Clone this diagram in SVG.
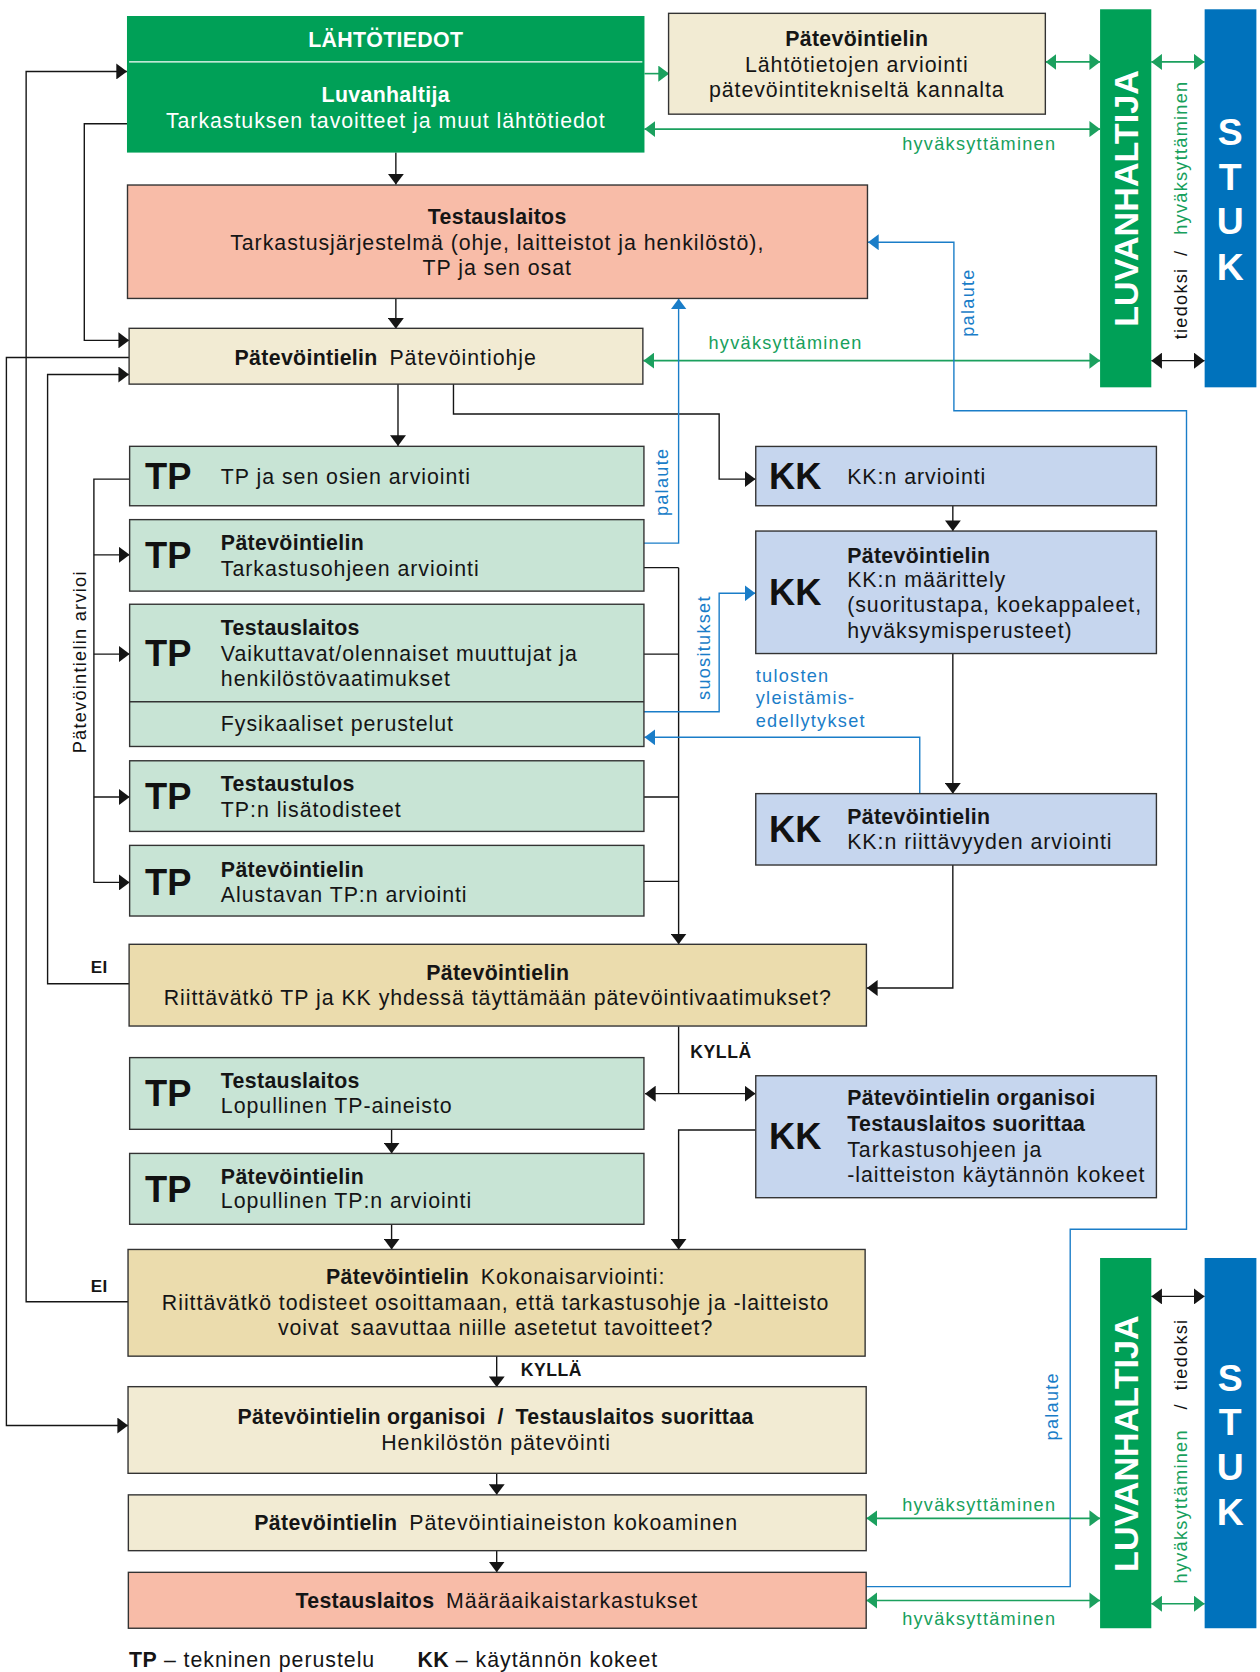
<svg xmlns="http://www.w3.org/2000/svg" width="1260" height="1672" viewBox="0 0 1260 1672">
<style>
.t{font-family:"Liberation Sans",Arial,sans-serif;font-size:20px;letter-spacing:0.9px;fill:#151515}
.b{font-weight:bold;letter-spacing:0.3px}
.w{fill:#fff}
.big{font-family:"Liberation Sans",Arial,sans-serif;font-size:34px;font-weight:bold;fill:#111}
.lbl{font-family:"Liberation Sans",Arial,sans-serif;font-size:17px;letter-spacing:1.2px}
.g{fill:#17a05c}
.bt{fill:#1a7dc8}
.k{fill:#111}
.box{stroke:#333;stroke-width:1.3}
.tp{fill:#c8e4d5}
.kk{fill:#c6d6ee}
.cr{fill:#f2ebd3}
.sa{fill:#f8bca8}
.tan{fill:#ebdcad}
.ln{fill:none;stroke:#151515;stroke-width:1.3}
.gl{fill:none;stroke:#1ba05e;stroke-width:1.5}
.bl{fill:none;stroke:#1a7dc8;stroke-width:1.3}
.bar{font-family:"Liberation Sans",Arial,sans-serif;font-weight:bold;fill:#fff}
</style>
<defs>
<marker id="ak" viewBox="0 0 10 15" refX="10" refY="7.5" markerWidth="10" markerHeight="15" markerUnits="userSpaceOnUse" orient="auto-start-reverse"><path d="M0,0L10,7.5L0,15z" fill="#151515"/></marker>
<marker id="ag" viewBox="0 0 10 15" refX="10" refY="7.5" markerWidth="10" markerHeight="15" markerUnits="userSpaceOnUse" orient="auto-start-reverse"><path d="M0,0L10,7.5L0,15z" fill="#1ba05e"/></marker>
<marker id="ab" viewBox="0 0 10 15" refX="10" refY="7.5" markerWidth="10" markerHeight="15" markerUnits="userSpaceOnUse" orient="auto-start-reverse"><path d="M0,0L10,7.5L0,15z" fill="#1a7dc8"/></marker>
</defs>
<rect width="1260" height="1672" fill="#fff"/>
<g transform="scale(1.067)">

<g id="connectors">
<g class="ln">
<path d="M371,143V173" marker-end="url(#ak)"/>
<path d="M371,279.5V308" marker-end="url(#ak)"/>
<path d="M119,116H79V319H121" marker-end="url(#ak)"/>
<path d="M120,1220H24.5V67H119" marker-end="url(#ak)"/>
<path d="M121,922H44.6V351H121" marker-end="url(#ak)"/>
<path d="M121,335H6V1336H120" marker-end="url(#ak)"/>
<path d="M373,360V418" marker-end="url(#ak)"/>
<path d="M425,360V388H674V449H708" marker-end="url(#ak)"/>
<path d="M121.5,449H88V827H121.5" marker-end="url(#ak)"/>
<path d="M88,520H121.5" marker-end="url(#ak)"/>
<path d="M88,613H121.5" marker-end="url(#ak)"/>
<path d="M88,747H121.5" marker-end="url(#ak)"/>
<path d="M603.5,532H636M603.5,613H636M603.5,747H636M603.5,826H636"/>
<path d="M636,532V885" marker-end="url(#ak)"/>
<path d="M893,474V497.7" marker-end="url(#ak)"/>
<path d="M893,612.5V743.8" marker-end="url(#ak)"/>
<path d="M893,810.7V926H812.5" marker-end="url(#ak)"/>
<path d="M636,962V1025"/>
<path d="M604.5,1025H708" marker-start="url(#ak)" marker-end="url(#ak)"/>
<path d="M367,1058.4V1081" marker-end="url(#ak)"/>
<path d="M367,1147.4V1171" marker-end="url(#ak)"/>
<path d="M708,1059H636V1171" marker-end="url(#ak)"/>
<path d="M465.5,1271V1300" marker-end="url(#ak)"/>
<path d="M465.5,1381V1401" marker-end="url(#ak)"/>
<path d="M465.5,1453.3V1473.6" marker-end="url(#ak)"/>
<path d="M1079,338H1129" marker-start="url(#ak)" marker-end="url(#ak)"/>
<path d="M1079,1215H1129" marker-start="url(#ak)" marker-end="url(#ak)"/>
</g>
<g class="gl">
<path d="M604,69H627" marker-end="url(#ag)"/>
<path d="M980,58H1031" marker-start="url(#ag)" marker-end="url(#ag)"/>
<path d="M1079,58H1129" marker-start="url(#ag)" marker-end="url(#ag)"/>
<path d="M604,121H1031" marker-start="url(#ag)" marker-end="url(#ag)"/>
<path d="M603,338H1031" marker-start="url(#ag)" marker-end="url(#ag)"/>
<path d="M812,1423H1031" marker-start="url(#ag)" marker-end="url(#ag)"/>
<path d="M812,1500H1031" marker-start="url(#ag)" marker-end="url(#ag)"/>
<path d="M1079,1503H1129" marker-start="url(#ag)" marker-end="url(#ag)"/>
</g>
<g class="bl">
<path d="M812,1487H1003V1152H1112V385H894V227H813.5" marker-end="url(#ab)"/>
<path d="M603.5,509H636V280" marker-end="url(#ab)"/>
<path d="M603.5,667H674V556H708" marker-end="url(#ab)"/>
<path d="M862,744V691H604" marker-end="url(#ab)"/>
</g>
<g class="lbl">
<text class="lbl g" x="845.5" y="141">hyväksyttäminen</text>
<text class="lbl g" x="664" y="327">hyväksyttäminen</text>
<text class="lbl g" x="845.5" y="1416">hyväksyttäminen</text>
<text class="lbl g" x="845.5" y="1523">hyväksyttäminen</text>
<text class="lbl bt" transform="translate(913,315.6) rotate(-90)">palaute</text>
<text class="lbl bt" transform="translate(626,483.7) rotate(-90)">palaute</text>
<text class="lbl bt" transform="translate(991.6,1350) rotate(-90)">palaute</text>
<text class="lbl bt" transform="translate(665.6,656) rotate(-90)">suositukset</text>
<text class="lbl bt" x="708.3" y="639">tulosten</text>
<text class="lbl bt" x="708.3" y="660">yleistämis-</text>
<text class="lbl bt" x="708.3" y="681">edellytykset</text>
<text class="lbl k" transform="translate(80.5,706) rotate(-90)">Pätevöintielin arvioi</text>
<text class="lbl k" transform="translate(1112,318) rotate(-90)">tiedoksi</text>
<text class="lbl k" text-anchor="middle" transform="translate(1112,237) rotate(-90)">/</text>
<text class="lbl g" transform="translate(1112,220) rotate(-90)">hyväksyttäminen</text>
<text class="lbl g" transform="translate(1112,1484) rotate(-90)">hyväksyttäminen</text>
<text class="lbl k" text-anchor="middle" transform="translate(1112,1318) rotate(-90)">/</text>
<text class="lbl k" transform="translate(1112,1303) rotate(-90)">tiedoksi</text>
<text class="t b" x="85" y="912" style="font-size:16px">EI</text>
<text class="t b" x="85" y="1211" style="font-size:16px">EI</text>
<text class="t b" x="647" y="992" style="font-size:16.5px;letter-spacing:0.5px">KYLLÄ</text>
<text class="t b" x="488" y="1290" style="font-size:16.5px;letter-spacing:0.5px">KYLLÄ</text>
</g>
</g>

<g id="lahtotiedot">
<rect x="119" y="15" width="485" height="128" fill="#00a057"/>
<line x1="121" y1="58" x2="602" y2="58" stroke="#fff" stroke-width="1"/>
<text class="t b w" x="361.5" y="44" text-anchor="middle">LÄHTÖTIEDOT</text>
<text class="t b w" x="361.5" y="95.5" text-anchor="middle">Luvanhaltija</text>
<text class="t w" x="361.5" y="119.7" text-anchor="middle">Tarkastuksen tavoitteet ja muut lähtötiedot</text>
</g>

<g id="lahto-arviointi">
<rect class="box cr" x="626.6" y="12.5" width="353.1" height="94.5"/>
<text class="t b" x="803" y="42.8" text-anchor="middle">Pätevöintielin</text>
<text class="t" x="803" y="67.2" text-anchor="middle">Lähtötietojen arviointi</text>
<text class="t" x="803" y="90.6" text-anchor="middle">pätevöintitekniseltä kannalta</text>
</g>

<g id="luvanhaltija1">
<rect x="1031" y="8.7" width="48" height="354.3" fill="#00a057"/>
<text class="bar" style="font-size:32px" text-anchor="middle" transform="translate(1066.5,186) rotate(-90)">LUVANHALTIJA</text>
</g>
<g id="stuk1">
<rect x="1129" y="8.7" width="48.5" height="354.3" fill="#0072bc"/>
<g class="bar" style="font-size:35px" text-anchor="middle">
<text x="1153" y="136">S</text><text x="1153" y="178">T</text><text x="1153" y="219">U</text><text x="1153" y="262.5">K</text>
</g>
</g>

<g id="testauslaitos">
<rect class="box sa" x="119.5" y="173.4" width="693.5" height="106.3"/>
<text class="t b" x="466" y="210" text-anchor="middle">Testauslaitos</text>
<text class="t" x="466" y="234" text-anchor="middle">Tarkastusjärjestelmä (ohje, laitteistot ja henkilöstö),</text>
<text class="t" x="466" y="258" text-anchor="middle">TP ja sen osat</text>
</g>

<g id="patevointiohje">
<rect class="box cr" x="121" y="307.7" width="481.5" height="52.3"/>
<text class="t" x="361.5" y="342" text-anchor="middle"><tspan class="b">Pätevöintielin</tspan><tspan dx="11">Pätevöintiohje</tspan></text>
</g>

<g id="tp1">
<rect class="box tp" x="121.5" y="418.3" width="482" height="55.7"/>
<text class="big" x="136" y="458.4">TP</text>
<text class="t" x="207" y="453.6">TP ja sen osien arviointi</text>
</g>
<g id="tp2">
<rect class="box tp" x="121.5" y="487" width="482" height="67"/>
<text class="big" x="136" y="532.2">TP</text>
<text class="t b" x="207" y="515.5">Pätevöintielin</text>
<text class="t" x="207" y="539.6">Tarkastusohjeen arviointi</text>
</g>
<g id="tp3">
<rect class="box tp" x="121.5" y="566.3" width="482" height="133.3"/>
<line class="box" x1="121.5" y1="657.7" x2="603.5" y2="657.7"/>
<text class="big" x="136" y="624.3">TP</text>
<text class="t b" x="207" y="594.7">Testauslaitos</text>
<text class="t" x="207" y="619.2">Vaikuttavat/olennaiset muuttujat ja</text>
<text class="t" x="207" y="642.7">henkilöstövaatimukset</text>
<text class="t" x="207" y="685.5">Fysikaaliset perustelut</text>
</g>
<g id="tp4">
<rect class="box tp" x="121.5" y="713" width="482" height="66.2"/>
<text class="big" x="136" y="758">TP</text>
<text class="t b" x="207" y="741.3">Testaustulos</text>
<text class="t" x="207" y="765.7">TP:n lisätodisteet</text>
</g>
<g id="tp5">
<rect class="box tp" x="121.5" y="792.3" width="482" height="66.2"/>
<text class="big" x="136" y="838.4">TP</text>
<text class="t b" x="207" y="821.7">Pätevöintielin</text>
<text class="t" x="207" y="845.2">Alustavan TP:n arviointi</text>
</g>

<g id="kk1">
<rect class="box kk" x="708.3" y="418.4" width="375.5" height="55.6"/>
<text class="big" x="720.8" y="458.4">KK</text>
<text class="t" x="794" y="453.6">KK:n arviointi</text>
</g>
<g id="kk2">
<rect class="box kk" x="708.3" y="497.7" width="375.5" height="114.8"/>
<text class="big" x="720.8" y="567.4">KK</text>
<text class="t b" x="794" y="527.2">Pätevöintielin</text>
<text class="t" x="794" y="550.6">KK:n määrittely</text>
<text class="t" x="794" y="574">(suoritustapa, koekappaleet,</text>
<text class="t" x="794" y="597.5">hyväksymisperusteet)</text>
</g>
<g id="kk3">
<rect class="box kk" x="708.3" y="743.8" width="375.5" height="66.9"/>
<text class="big" x="720.8" y="789">KK</text>
<text class="t b" x="794" y="772.5">Pätevöintielin</text>
<text class="t" x="794" y="796">KK:n riittävyyden arviointi</text>
</g>

<g id="riittavatko">
<rect class="box tan" x="121" y="885" width="691" height="76.6"/>
<text class="t b" x="466.5" y="918.5" text-anchor="middle">Pätevöintielin</text>
<text class="t" x="466.5" y="942" text-anchor="middle">Riittävätkö TP ja KK yhdessä täyttämään pätevöintivaatimukset?</text>
</g>

<g id="tp6">
<rect class="box tp" x="121.5" y="991.2" width="482" height="67.2"/>
<text class="big" x="136" y="1036.3">TP</text>
<text class="t b" x="207" y="1020">Testauslaitos</text>
<text class="t" x="207" y="1043.4">Lopullinen TP-aineisto</text>
</g>
<g id="tp7">
<rect class="box tp" x="121.5" y="1081" width="482" height="66.4"/>
<text class="big" x="136" y="1126.2">TP</text>
<text class="t b" x="207" y="1109.7">Pätevöintielin</text>
<text class="t" x="207" y="1132.5">Lopullinen TP:n arviointi</text>
</g>
<g id="kk4">
<rect class="box kk" x="708.3" y="1008.2" width="375.5" height="114.3"/>
<text class="big" x="720.8" y="1077.2">KK</text>
<text class="t b" x="794" y="1035.6">Pätevöintielin organisoi</text>
<text class="t b" x="794" y="1059.7">Testauslaitos suorittaa</text>
<text class="t" x="794" y="1084">Tarkastusohjeen ja</text>
<text class="t" x="794" y="1107.5">-laitteiston käytännön kokeet</text>
</g>

<g id="kokonaisarviointi">
<rect class="box tan" x="120" y="1171" width="690.8" height="100"/>
<text class="t" x="464.5" y="1203.4" text-anchor="middle"><tspan class="b">Pätevöintielin</tspan><tspan dx="11">Kokonaisarviointi:</tspan></text>
<text class="t" x="464.5" y="1227.8" text-anchor="middle">Riittävätkö todisteet osoittamaan, että tarkastusohje ja -laitteisto</text>
<text class="t" x="464.5" y="1251.2" text-anchor="middle">voivat <tspan dx="4">saavuttaa niille asetetut tavoitteet?</tspan></text>
</g>

<g id="henkiloston-patevointi">
<rect class="box cr" x="120" y="1299.6" width="691.8" height="81.2"/>
<text class="t b" x="464.5" y="1334.6" text-anchor="middle">Pätevöintielin organisoi<tspan dx="11">/</tspan><tspan dx="11">Testauslaitos suorittaa</tspan></text>
<text class="t" x="465" y="1359" text-anchor="middle">Henkilöstön pätevöinti</text>
</g>

<g id="patevointiaineisto">
<rect class="box cr" x="120.3" y="1401" width="691.5" height="52.3"/>
<text class="t" x="465" y="1434" text-anchor="middle"><tspan class="b">Pätevöintielin</tspan><tspan dx="11">Pätevöintiaineiston kokoaminen</tspan></text>
</g>

<g id="maaraaikaistarkastukset">
<rect class="box sa" x="120.3" y="1473.6" width="691.5" height="52.4"/>
<text class="t" x="465.6" y="1507.4" text-anchor="middle"><tspan class="b">Testauslaitos</tspan><tspan dx="11">Määräaikaistarkastukset</tspan></text>
</g>

<g id="luvanhaltija2">
<rect x="1031" y="1179" width="48" height="347" fill="#00a057"/>
<text class="bar" style="font-size:32px" text-anchor="middle" transform="translate(1066.5,1353) rotate(-90)">LUVANHALTIJA</text>
</g>
<g id="stuk2">
<rect x="1129" y="1179" width="48.5" height="347" fill="#0072bc"/>
<g class="bar" style="font-size:35px" text-anchor="middle">
<text x="1153" y="1304">S</text><text x="1153" y="1345">T</text><text x="1153" y="1387">U</text><text x="1153" y="1429">K</text>
</g>
</g>

<g id="legend">
<text class="t" x="121" y="1562"><tspan class="b">TP</tspan> – tekninen perustelu</text>
<text class="t" x="391.3" y="1562"><tspan class="b">KK</tspan> – käytännön kokeet</text>
</g>
</g>
</svg>
